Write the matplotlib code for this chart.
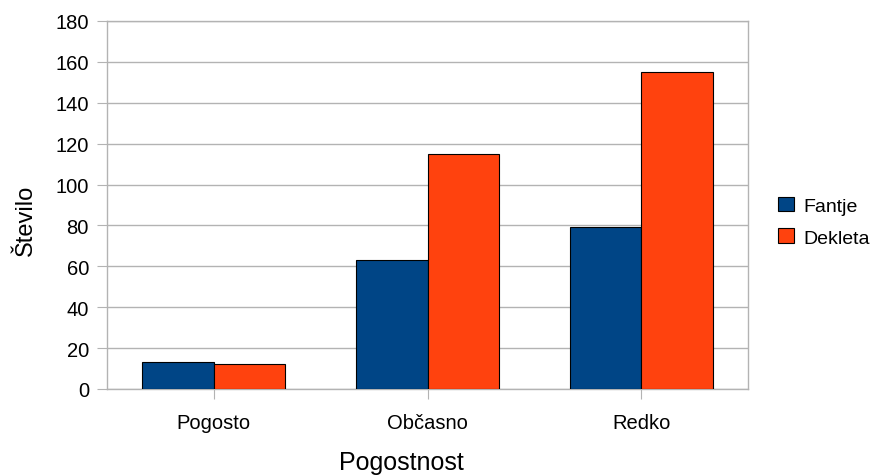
import matplotlib
matplotlib.use('Agg')
import matplotlib.pyplot as plt
import numpy as np

plt.rcParams['font.family'] = ['Liberation Sans', 'DejaVu Sans']

categories = ['Pogosto', 'Občasno', 'Redko']
fantje = [13, 63, 79]
dekleta = [12, 115, 155]
yticks = [0, 20, 40, 60, 80, 100, 120, 140, 160, 180]

fig = plt.figure(figsize=(8.73, 4.77), dpi=100)
ax = fig.add_axes([0.1226, 0.1824, 0.7342, 0.7715])

x = np.arange(len(categories))
w = 0.335
ax.bar(x - w / 2, fantje, w, color='#004586', edgecolor='black', linewidth=0.8, label='Fantje', zorder=3)
ax.bar(x + w / 2, dekleta, w, color='#ff420e', edgecolor='black', linewidth=0.8, label='Dekleta', zorder=3)

ax.set_xlim(-0.5, len(categories) - 0.5)
ax.set_ylim(0, 180)
ax.set_yticks(yticks)
ax.set_xticks(x)
ax.set_xticklabels(categories, fontsize=14.5)
ax.tick_params(axis='y', labelsize=14.5, length=7, color='#b3b3b3', pad=6)
ax.tick_params(axis='x', length=7, color='#b3b3b3', pad=10)
ax.grid(axis='y', color='#b3b3b3', linewidth=1, zorder=0)
for s in ax.spines.values():
    s.set_color('#b3b3b3')
    s.set_linewidth(1)

# x label sits a bit left of centre, as in the original export
ax.set_xlabel('Pogostnost', fontsize=18)
ax.xaxis.set_label_coords(0.459, -0.166)
ax.set_ylabel('Število', fontsize=17)
ax.yaxis.set_label_coords(-0.109, 0.462)

ax.legend(loc='center left', bbox_to_anchor=(1.02, 0.455), frameon=False,
          fontsize=14, handlelength=0.8, handleheight=0.8, handletextpad=0.5,
          labelspacing=0.7)

fig.savefig('out.png', dpi=100)
